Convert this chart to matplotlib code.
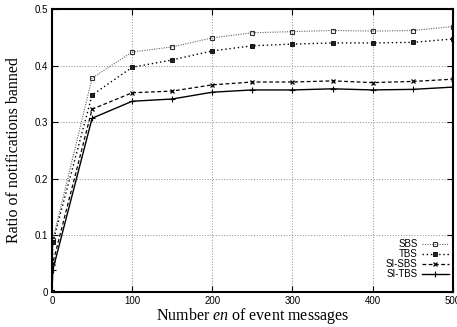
import matplotlib
matplotlib.use("Agg")
import matplotlib.pyplot as plt

plt.rcParams['mathtext.fontset'] = 'custom'
plt.rcParams['mathtext.rm'] = 'Liberation Serif'
plt.rcParams['mathtext.it'] = 'Liberation Serif:italic'

# number of event messages
en = [0, 1, 50, 100, 150, 200, 250, 300, 350, 400, 450, 500]

sbs = [0.0, 0.092, 0.378, 0.424, 0.433, 0.449, 0.458, 0.460, 0.462, 0.461, 0.462, 0.469]
tbs = [0.0, 0.088, 0.348, 0.397, 0.410, 0.426, 0.435, 0.438, 0.440, 0.440, 0.441, 0.447]
si_sbs = [0.0, 0.051, 0.323, 0.352, 0.355, 0.366, 0.371, 0.371, 0.373, 0.370, 0.372, 0.376]
si_tbs = [0.0, 0.039, 0.307, 0.337, 0.341, 0.353, 0.357, 0.357, 0.359, 0.357, 0.358, 0.362]

xticks = [0, 100, 200, 300, 400, 500]
yticks = [0, 0.1, 0.2, 0.3, 0.4, 0.5]

fig = plt.figure(figsize=(4.57, 3.27), dpi=100)
ax = fig.add_axes([0.1138, 0.107, 0.877, 0.8655])

ax.plot(en, sbs, color='#666666', ls=(0, (1, 1.2)), lw=0.8, marker='s', ms=3.5,
        mfc='none', mec='#333333', mew=0.8, label='SBS')
ax.plot(en, tbs, color='black', ls=(0, (1, 2)), lw=1.0, marker='s', ms=3,
        mfc='#222222', mec='black', mew=0.6, label='TBS')
ax.plot(en, si_sbs, color='black', ls=(0, (3, 2)), lw=0.9, marker='x', ms=3.5,
        mew=0.9, label='SI-SBS')
ax.plot(en, si_tbs, color='black', ls='-', lw=1.0, marker='+', ms=4,
        mew=0.8, label='SI-TBS')

ax.set_xlim(0, 500)
ax.set_ylim(0, 0.5)
ax.set_xticks(xticks)
ax.set_yticks(yticks)
ax.set_yticklabels(['0', '0.1', '0.2', '0.3', '0.4', '0.5'])
ax.tick_params(direction='in', top=True, right=True, length=4, width=0.8,
               labelsize=7, pad=3)
for lab in ax.get_xticklabels() + ax.get_yticklabels():
    lab.set_family('Liberation Sans')
for s in ax.spines.values():
    s.set_linewidth(1.5)

ax.grid(True, color='#8a8a8a', ls=(0, (1, 1.8)), lw=0.7)

ax.set_xlabel('Number $en$ of event messages', family='Liberation Serif',
              fontsize=11.5)
ax.xaxis.set_label_coords(0.5, -0.05, transform=ax.transAxes)
ax.xaxis.label.set_va('top')
ax.set_ylabel('Ratio of notifications banned', family='Liberation Serif',
              fontsize=11.5)
ax.yaxis.set_label_coords(-0.075, 0.5)

leg = ax.legend(loc='lower right', bbox_to_anchor=(0.99, 0.045), markerfirst=False,
                frameon=False, prop={'family': 'Liberation Sans', 'size': 7},
                handlelength=2.8, handleheight=0.5, handletextpad=0.4,
                labelspacing=0.0, borderaxespad=0, borderpad=0)
for t in leg.get_texts():
    t.set_ha('right')

fig.savefig('out.png', dpi=100)
